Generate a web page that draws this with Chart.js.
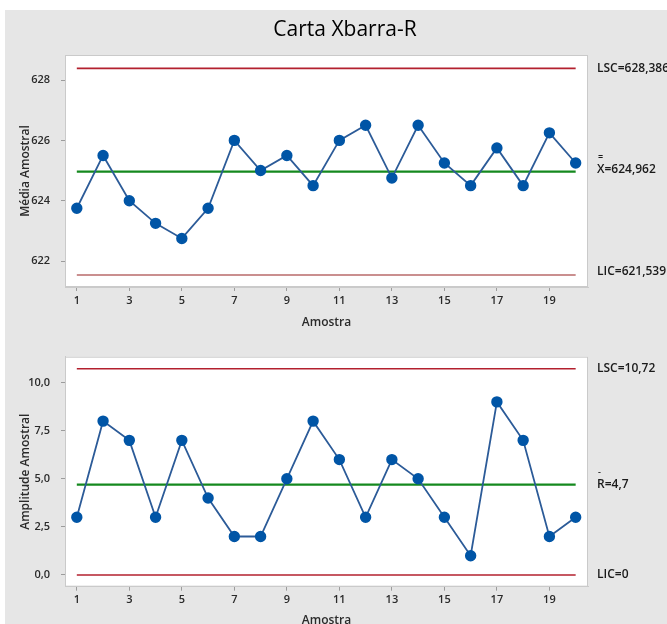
<!DOCTYPE html>
<html>
<head>
<meta charset="utf-8">
<script src="https://cdn.jsdelivr.net/npm/chart.js@4"></script>
<style>
  html, body { margin: 0; padding: 0; overflow: hidden; background: #fff; }
  #sheet { position: absolute; left: 5px; top: 10px; width: 662px; height: 614px; background: #e6e6e6; }
  canvas { position: absolute; left: 0; }
  #meanChart { top: 0; }
  #rangeChart { top: 330px; }
</style>
</head>
<body>
<div id="sheet"></div>
<canvas id="meanChart" width="667" height="330"></canvas>
<canvas id="rangeChart" width="667" height="300"></canvas>
<script>
/* Carta Xbarra-R : sample means (top) and sample ranges (bottom) */

const samples = [1, 2, 3, 4, 5, 6, 7, 8, 9, 10, 11, 12, 13, 14, 15, 16, 17, 18, 19, 20];
const sampleMeans = [623.75, 625.5, 624.0, 623.25, 622.75, 623.75, 626.0, 625.0, 625.5, 624.5,
                     626.0, 626.5, 624.75, 626.5, 625.25, 624.5, 625.75, 624.5, 626.25, 625.25];
const sampleRanges = [3, 8, 7, 3, 7, 4, 2, 2, 5, 8, 6, 3, 6, 5, 3, 1, 9, 7, 2, 3];

// control limits: LSC, centre, LIC
const meanLimits = [628.386, 624.962, 621.539];
const meanLimitLabels = ['LSC=628,386', 'X=624,962', 'LIC=621,539'];
const rangeLimits = [10.72, 4.7, 0];
const rangeLimitLabels = ['LSC=10,72', 'R=4,7', 'LIC=0'];

const sampleTicks = [1, 3, 5, 7, 9, 11, 13, 15, 17, 19];
const meanTicks = [622, 624, 626, 628];
const rangeTicks = [0, 2.5, 5, 7.5, 10];

const chartTitle = 'Carta Xbarra-R';
const FONT = '"Open Sans", "Noto Sans", sans-serif';

// white plot area, grey frame, limit labels on the right
const framePlugin = {
    id: 'frame',
    beforeDraw(chart) {
        const { ctx, chartArea: a } = chart;
        ctx.save();
        ctx.fillStyle = '#ffffff';
        ctx.fillRect(a.left, a.top, a.right - a.left, a.bottom - a.top);
        ctx.restore();
    },
    beforeDatasetsDraw(chart) {
        const { ctx, chartArea: a } = chart;
        ctx.save();
        ctx.strokeStyle = '#cacaca';
        ctx.lineWidth = 1;
        ctx.strokeRect(a.left + 0.5, a.top + 0.5, a.right - a.left - 1, a.bottom - a.top - 1);
        ctx.restore();
    },
    afterDraw(chart, args, opts) {
        const { ctx, chartArea: a } = chart;
        const y = chart.scales.y;
        ctx.save();
        ctx.fillStyle = '#1a1a1a';
        ctx.textBaseline = 'middle';
        ctx.textAlign = 'left';
        opts.values.forEach((v, i) => {
            const py = y.getPixelForValue(v) + (opts.shift[i] || 0);
            ctx.font = '600 12px ' + FONT;
            ctx.fillText(opts.labels[i], a.right + 9, py);
            if (i === 1) {
                // bar(s) above X / R
                ctx.font = '600 9px ' + FONT;
                ctx.fillText(opts.bar, a.right + 10, py - 12);
            }
        });
        if (opts.title) {
            ctx.font = '21px ' + FONT;
            ctx.textAlign = 'center';
            ctx.fillStyle = '#000';
            ctx.fillText(opts.title, 345, 30);
        }
        ctx.restore();
    }
};

function limitLine(value, color, width) {
    return {
        data: [{ x: samples[0], y: value }, { x: samples[samples.length - 1], y: value }],
        borderColor: color,
        borderWidth: width,
        pointRadius: 0,
        fill: false
    };
}

function makeChart(id, values, limits, limitLabels, yTicks, cfg) {
    const tickFont = { family: FONT, size: 11, weight: '600' };
    const titleFont = { family: FONT, size: 12, weight: '600' };
    return new Chart(document.getElementById(id), {
        type: 'line',
        data: {
            datasets: [
                {
                    data: samples.map((s, i) => ({ x: s, y: values[i] })),
                    borderColor: '#2c5b98',
                    borderWidth: 1.8,
                    backgroundColor: '#0055a6',
                    pointBackgroundColor: '#0055a6',
                    pointBorderColor: '#0055a6',
                    pointRadius: 4.8,
                    tension: 0,
                    fill: false
                },
                limitLine(limits[0], '#b3202e', 1.6),
                limitLine(limits[1], '#14891e', 2.2),
                limitLine(limits[2], cfg.licColor, 1.6)
            ]
        },
        options: {
            responsive: false,
            animation: false,
            events: [],
            layout: { padding: { left: 0, right: 79, top: cfg.top, bottom: 0 } },
            plugins: {
                legend: { display: false },
                tooltip: { enabled: false },
                frame: {
                    values: limits,
                    labels: limitLabels,
                    shift: cfg.shift,
                    bar: cfg.bar,
                    title: cfg.title
                }
            },
            scales: {
                x: {
                    type: 'linear',
                    min: 0.55,
                    max: 20.47,
                    afterBuildTicks: s => { s.ticks = sampleTicks.map(v => ({ value: v })); },
                    afterFit: s => { s.height = cfg.xHeight; },
                    ticks: { font: tickFont, color: '#2a2a2a', padding: 3, callback: v => String(v) },
                    grid: { drawOnChartArea: false, drawTicks: true, tickLength: 4, color: '#9c9c9c' },
                    border: { display: true, color: '#cacaca' },
                    title: {
                        display: true,
                        text: 'Amostra',
                        font: titleFont,
                        color: '#2a2a2a',
                        padding: { top: 0, bottom: cfg.xTitlePad }
                    }
                },
                y: {
                    min: cfg.yMin,
                    max: cfg.yMax,
                    afterBuildTicks: s => { s.ticks = yTicks.map(v => ({ value: v })); },
                    afterFit: s => { s.width = 65; },
                    ticks: { font: tickFont, color: '#2a2a2a', padding: 11, callback: cfg.fmt },
                    grid: { drawOnChartArea: false, drawTicks: true, tickLength: 4, color: '#9c9c9c' },
                    border: { display: true, color: '#cacaca' },
                    title: {
                        display: true,
                        text: cfg.yTitle,
                        font: titleFont,
                        color: '#2a2a2a',
                        padding: { top: 18.4, bottom: 0 }
                    }
                }
            }
        },
        plugins: [framePlugin]
    });
}

makeChart('meanChart', sampleMeans, meanLimits, meanLimitLabels, meanTicks, {
    top: 55,
    xHeight: 43,
    xTitlePad: 0.7,
    yMin: 621.14,
    yMax: 628.83,
    yTitle: 'Média Amostral',
    licColor: '#b86a6a',
    fmt: v => String(v),
    shift: [0, -2, -3],
    bar: '=',
    title: chartTitle
});

makeChart('rangeChart', sampleRanges, rangeLimits, rangeLimitLabels, rangeTicks, {
    top: 26.7,
    xHeight: 43.3,
    xTitlePad: 2.4,
    yMin: -0.61,
    yMax: 11.35,
    yTitle: 'Amplitude Amostral',
    licColor: '#b3202e',
    fmt: v => v.toFixed(1).replace('.', ','),
    shift: [0, 0, 0],
    bar: '-',
    title: null
});
</script>
</body>
</html>
